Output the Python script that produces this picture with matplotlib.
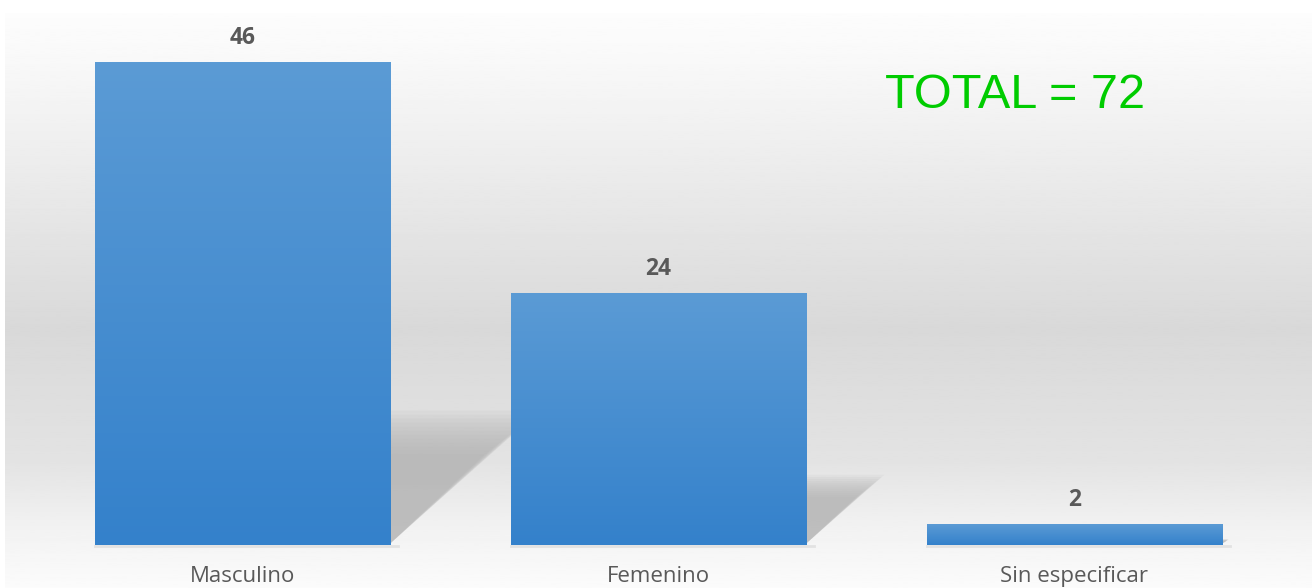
import numpy as np
import matplotlib
matplotlib.use("Agg")
from matplotlib import pyplot as plt
from matplotlib.colors import LinearSegmentedColormap
from matplotlib.patches import Polygon

# datos del grafico
categorias = ["Masculino", "Femenino", "Sin especificar"]
valores = [46, 24, 2]
total_texto = "TOTAL = 72"

W, H = 1312, 588
fig = plt.figure(figsize=(W / 100, H / 100), dpi=100)

# fondo con degradado (blanco - gris - blanco)
bg = fig.add_axes([5 / W, 0, 1 - 5 / W, 1 - 13 / H])
bg.set_axis_off()
filas = np.linspace(0, 1, 300)
niveles = np.interp(filas, [0, 0.08, 0.55, 0.78, 0.9, 1.0],
                    [0.99, 0.975, 0.85, 0.89, 0.95, 0.985])
bg.imshow(niveles[:, None], cmap="gray", vmin=0, vmax=1, aspect="auto",
          extent=[0, 1, 0, 1], origin="upper")
bg.set_xlim(0, 1)
bg.set_ylim(0, 1)

# ejes principales
y0 = 545
ax = fig.add_axes([34.5 / W, (H - y0) / H, 1248 / W, (y0 - 13) / H])
ax.patch.set_alpha(0)
ymax = (y0 - 13) / 10.5
ax.set_xlim(-0.5, 2.5)
ax.set_ylim(0, ymax)
for s in ax.spines.values():
    s.set_visible(False)
ax.set_yticks([])

x = np.arange(len(categorias))
ancho = 0.71

barras = ax.bar(x, valores, width=ancho, color="none", zorder=3)

# sombras en perspectiva detras de las barras (capas para simular desenfoque)
for xi, v in zip(x, valores):
    h = 0.235 * v
    n = 12
    for i in range(n):
        f = 0.8 + i * 0.035
        hh = h * f
        dx = 0.028 * h * (0.75 + i * 0.04)
        izq = xi - ancho / 2
        der = xi + ancho / 2
        poly = Polygon([(izq, 0.15), (der, 0.15), (der + dx, hh), (izq + dx, hh)],
                       closed=True, facecolor="#b0b0b0", edgecolor="none",
                       alpha=0.11, zorder=2)
        ax.add_patch(poly)

# degradado azul dentro de cada barra
cmap_barra = LinearSegmentedColormap.from_list("azul", ["#5b9bd5", "#3481cb"])
grad = np.linspace(0, 1, 256)[:, None]
for b in barras:
    bx, by = b.get_x(), b.get_y()
    bw, bh = b.get_width(), b.get_height()
    im = ax.imshow(grad, cmap=cmap_barra, aspect="auto", origin="upper",
                   extent=[bx, bx + bw, by, by + bh], zorder=3)
    im.set_clip_path(b)
    ax.plot([bx, bx + bw + 0.02], [-0.07, -0.07], color="#e2e2e2", lw=2,
            zorder=2, clip_on=False)

ax.set_xlim(-0.5, 2.5)
ax.set_ylim(0, ymax)

# etiquetas de valores
for xi, v in zip(x, valores):
    ax.annotate(str(v), (xi, v), xytext=(0, 12), textcoords="offset pixels",
                ha="center", va="bottom", fontsize=16.5, fontweight="bold",
                color="#595959", family="Open Sans")

ax.set_xticks(x)
ax.set_xticklabels(categorias, fontsize=16, color="#595959", family="Open Sans")
ax.tick_params(axis="x", length=0, pad=15)

# total
fig.text(1015 / W, (H - 108) / H, total_texto, ha="center", va="baseline",
         fontsize=35, color="#00cc00", family="Liberation Sans")

fig.savefig("out.png", dpi=100)
